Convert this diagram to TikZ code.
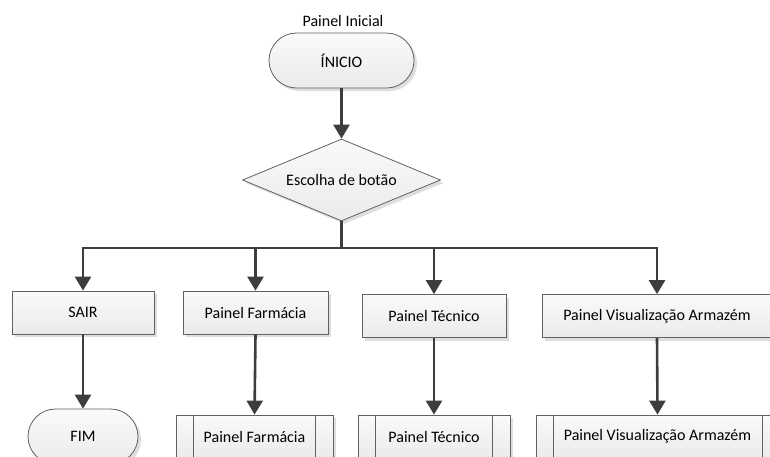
\documentclass[tikz,border=0pt]{standalone}
\usepackage{fontspec}
\setmainfont{Carlito}
\usetikzlibrary{shapes.geometric,shapes.misc,arrows.meta,shadows}
\begin{document}
\begin{tikzpicture}[x=1pt,y=-1pt,
  font=\fontsize{16pt}{19pt}\selectfont,
  boxfill/.style={top color=black!2,bottom color=black!8,draw=black!62,line width=0.8pt,
    drop shadow={opacity=0.13,fill=black,shadow xshift=3pt,shadow yshift=-3pt}},
  termbox/.style={rounded rectangle,boxfill,minimum height=55pt,inner sep=0pt},
  procbox/.style={rectangle,boxfill,minimum height=43pt,inner sep=0pt},
  subbox/.style={procbox,path picture={
    \draw[black!62,line width=0.8pt]
      ([xshift=#1]path picture bounding box.north west) -- ([xshift=#1]path picture bounding box.south west)
      ([xshift=-#1]path picture bounding box.north east) -- ([xshift=-#1]path picture bounding box.south east);}},
  decbox/.style={diamond,aspect=2.4,boxfill,inner sep=0pt},
  link/.style={draw=black!76,line width=2.6pt},
  flow/.style={link,-{Triangle[width=16pt,length=14pt]}}
]
\useasboundingbox (0,0) rectangle (770,456);
\clip (0,0) rectangle (770,456);

% title and start
\node (title) at (343,21) {Painel Inicial};
\node[termbox,minimum width=145pt] (ini) at (341.5,60.5) {ÍNICIO};

% decision
\node[decbox,minimum width=198pt,minimum height=82pt] (dia) at (341.5,180) {Escolha de botão};

% first row of panels
\node[procbox,minimum width=142pt] (sair) at (83,312.5) {SAIR};
\node[procbox,minimum width=145pt] (farm) at (255.5,312.5) {Painel Farmácia};
\node[procbox,minimum width=144pt] (tec) at (434,316) {Painel Técnico};
\node[procbox,minimum width=230pt] (vis) at (657,316) {Painel Visualização Armazém};

% second row
\node[termbox,minimum width=110pt] (fim) at (83,436.5) {FIM};
\node[subbox=17.5pt,minimum width=157pt] (farm2) at (254.5,436.5) {Painel Farmácia};
\node[subbox=17.5pt,minimum width=152pt] (tec2) at (434,436.5) {Painel Técnico};
\node[subbox=17pt,minimum width=243pt] (vis2) at (657.5,436.5) {Painel Visualização Armazém};

% branch point under the decision
\coordinate (j) at (341.5,248);

% connectors
\draw[flow] (ini.south) -- (dia.north);
\draw[link] (dia.south) -- (j);
\draw[flow] (j) -| (sair.north);
\draw[flow] (j) -| (farm.north);
\draw[flow] (j) -| (tec.north);
\draw[flow] (j) -| (vis.north);
\draw[flow] (sair.south) -- (fim.north);
\draw[flow] (farm.south) -- (farm2.north);
\draw[flow] (tec.south) -- (tec2.north);
\draw[flow] (vis.south) -- (vis2.north);
\end{tikzpicture}
\end{document}
